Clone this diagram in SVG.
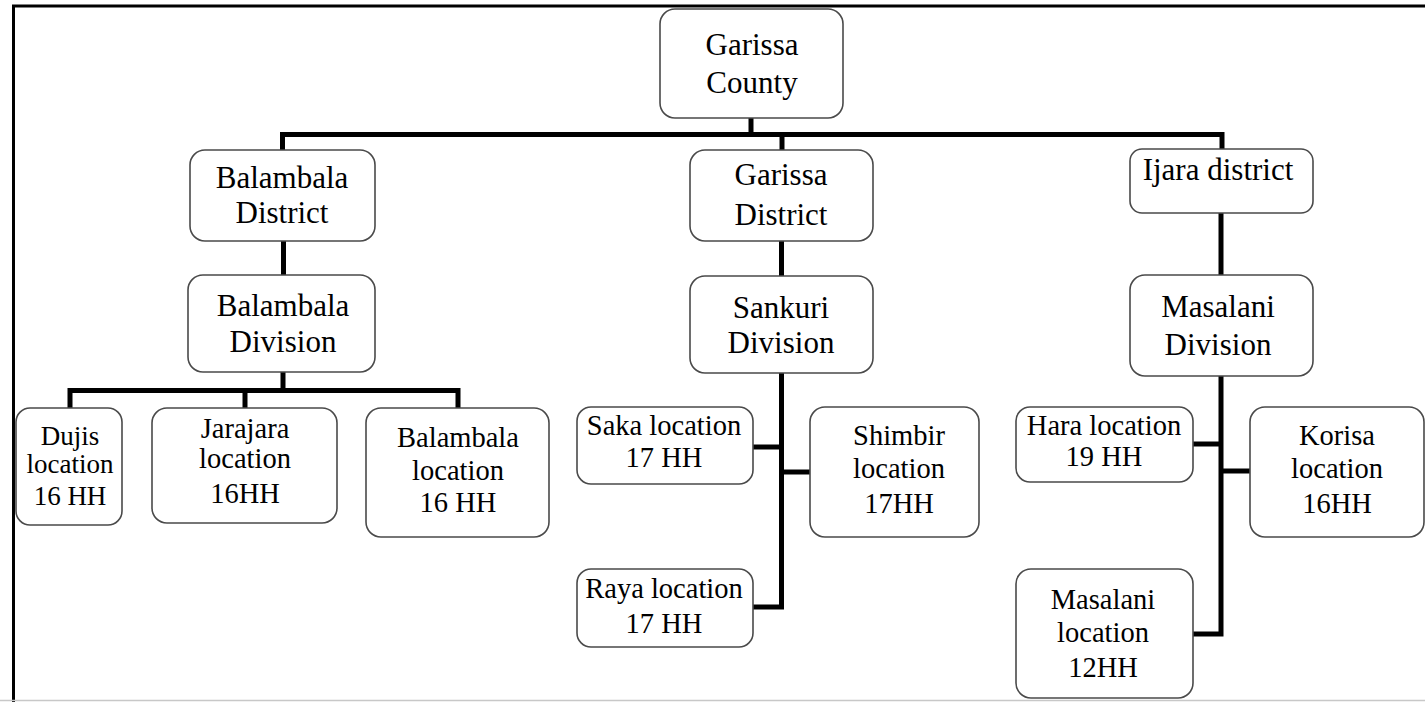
<svg xmlns="http://www.w3.org/2000/svg" width="1425" height="702" viewBox="0 0 1425 702">
<style>
.box{fill:#fff;stroke:#4a4a4a;stroke-width:1.6}
.t{font-family:"Liberation Serif","Times New Roman",serif;font-size:31px;fill:#000;text-anchor:middle}
.s{font-size:28.5px}
.d{font-size:27px}
.c{fill:none;stroke:#000;stroke-width:5;stroke-linecap:butt;stroke-linejoin:miter}
</style>
<rect x="0" y="0" width="1425" height="702" fill="#fff"/>
<g id="frame">
<path d="M13.5,702 V6 H1425" fill="none" stroke="#000" stroke-width="3"/>
<line x1="0" y1="700.5" x2="1425" y2="700.5" stroke="#c8c8c8" stroke-width="1.5"/>
</g>
<g id="connectors">
<path class="c" d="M751,118 V134.5"/>
<path class="c" d="M282.5,150 V134.5 H1222 V149"/>
<path class="c" d="M782,134.5 V150"/>
<path class="c" d="M283.5,241 V275"/>
<path class="c" d="M283,372 V390.5"/>
<path class="c" d="M70,408 V390.5 H458 V408"/>
<path class="c" d="M245,390.5 V408"/>
<path class="c" d="M781.5,241 V276"/>
<path class="c" d="M781.5,373 V607 H753"/>
<path class="c" d="M753,447 H781.5"/>
<path class="c" d="M781.5,472 H810"/>
<path class="c" d="M1221,213 V275"/>
<path class="c" d="M1221,376 V634 H1193"/>
<path class="c" d="M1193,444 H1221"/>
<path class="c" d="M1221,471 H1250"/>
</g>
<g id="garissa-county"><rect class="box" x="660" y="9" width="183" height="109" rx="15"/><text class="t" x="752" y="55">Garissa</text><text class="t" x="752" y="93">County</text></g>
<g id="balambala-district"><rect class="box" x="190" y="150" width="185" height="91" rx="15"/><text class="t" x="282" y="188">Balambala</text><text class="t" x="282" y="223">District</text></g>
<g id="garissa-district"><rect class="box" x="690" y="150" width="183" height="91" rx="15"/><text class="t" x="781" y="185">Garissa</text><text class="t" x="781" y="225">District</text></g>
<g id="ijara-district"><rect class="box" x="1130" y="149" width="183" height="64" rx="12"/><text class="t" x="1218" y="180">Ijara district</text></g>
<g id="balambala-division"><rect class="box" x="188" y="275" width="187" height="97" rx="15"/><text class="t" x="283" y="316">Balambala</text><text class="t" x="283" y="352">Division</text></g>
<g id="sankuri-division"><rect class="box" x="690" y="276" width="183" height="97" rx="15"/><text class="t" x="781" y="318">Sankuri</text><text class="t" x="781" y="353">Division</text></g>
<g id="masalani-division"><rect class="box" x="1130" y="275" width="183" height="101" rx="15"/><text class="t" x="1218" y="317">Masalani</text><text class="t" x="1218" y="355">Division</text></g>
<g id="dujis"><rect class="box" x="16" y="408" width="106" height="117" rx="14"/><text class="t d" x="70" y="445">Dujis</text><text class="t d" x="70" y="473">location</text><text class="t d" x="70" y="505">16 HH</text></g>
<g id="jarajara"><rect class="box" x="152" y="408" width="185" height="115" rx="15"/><text class="t s" x="245" y="438">Jarajara</text><text class="t s" x="245" y="468">location</text><text class="t s" x="245" y="503">16HH</text></g>
<g id="balambala-location"><rect class="box" x="366" y="408" width="183" height="129" rx="15"/><text class="t s" x="458" y="447">Balambala</text><text class="t s" x="458" y="480">location</text><text class="t s" x="458" y="512">16 HH</text></g>
<g id="saka"><rect class="box" x="577" y="407" width="176" height="77" rx="14"/><text class="t s" x="664" y="435">Saka location</text><text class="t s" x="664" y="467">17 HH</text></g>
<g id="shimbir"><rect class="box" x="810" y="407" width="169" height="130" rx="15"/><text class="t s" x="899" y="445">Shimbir</text><text class="t s" x="899" y="478">location</text><text class="t s" x="899" y="513">17HH</text></g>
<g id="raya"><rect class="box" x="577" y="569" width="176" height="78" rx="14"/><text class="t s" x="664" y="598">Raya location</text><text class="t s" x="664" y="633">17 HH</text></g>
<g id="hara"><rect class="box" x="1016" y="407" width="177" height="75" rx="14"/><text class="t s" x="1104" y="435">Hara location</text><text class="t s" x="1104" y="466">19 HH</text></g>
<g id="korisa"><rect class="box" x="1250" y="407" width="174" height="130" rx="15"/><text class="t s" x="1337" y="445">Korisa</text><text class="t s" x="1337" y="478">location</text><text class="t s" x="1337" y="513">16HH</text></g>
<g id="masalani-location"><rect class="box" x="1016" y="569" width="177" height="129" rx="15"/><text class="t s" x="1103" y="609">Masalani</text><text class="t s" x="1103" y="642">location</text><text class="t s" x="1103" y="677">12HH</text></g>
</svg>
